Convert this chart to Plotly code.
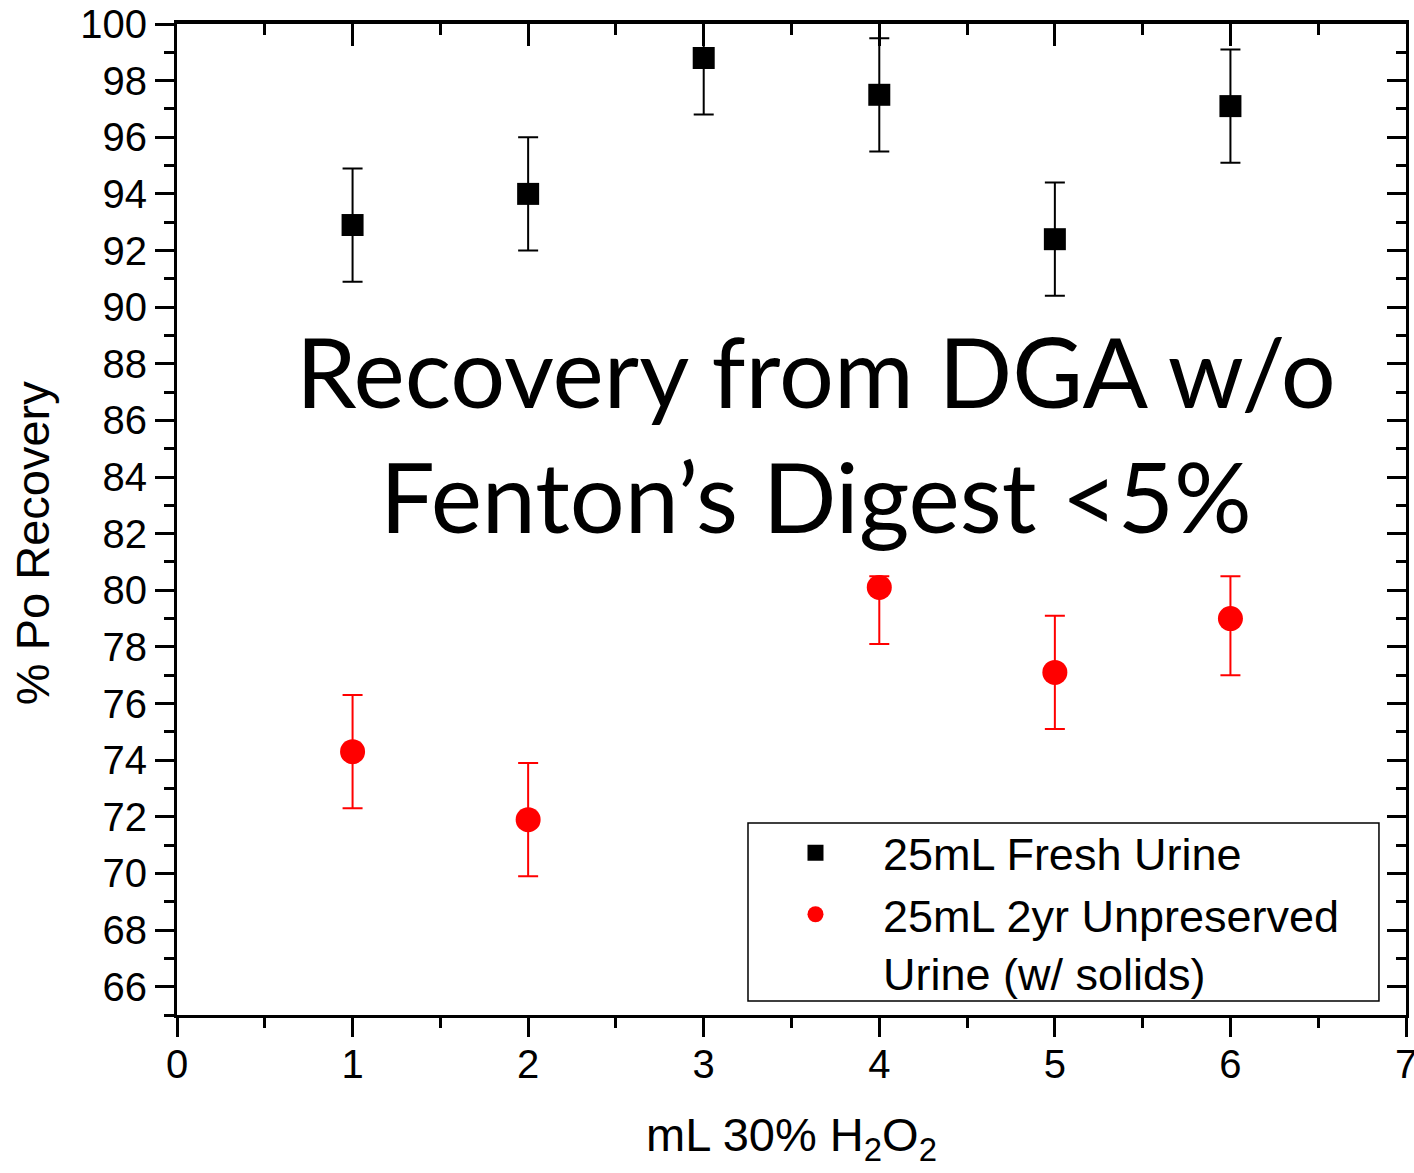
import plotly.graph_objects as go

# Po recovery vs. volume of 30% H2O2 added
h2o2_ml = [1, 2, 3, 4, 5, 6]
fresh_recovery = [92.9, 94.0, 98.8, 97.5, 92.4, 97.1]
fresh_err = [2.0, 2.0, 2.0, 2.0, 2.0, 2.0]

aged_ml = [1, 2, 4, 5, 6]
aged_recovery = [74.3, 71.9, 80.1, 77.1, 79.0]
aged_err_plus = [2.0, 2.0, 0.4, 2.0, 1.5]
aged_err_minus = [2.0, 2.0, 2.0, 2.0, 2.0]

fresh_name = "25mL Fresh Urine"
aged_name = "25mL 2yr Unpreserved<br>Urine (w/ solids)"
note_lines = ["Recovery from DGA w/o", "Fenton\u2019s Digest <5%"]
x_title = "mL 30% H<sub>2</sub>O<sub>2</sub>"
y_title = "% Po Recovery"

AX_FONT = "Liberation Sans, Arial, sans-serif"

fig = go.Figure()
fig.add_trace(go.Scatter(
    x=h2o2_ml, y=fresh_recovery, mode="markers", name=fresh_name,
    marker=dict(symbol="square", size=22, color="black"),
    error_y=dict(type="data", array=fresh_err, color="black", thickness=2, width=10),
))
fig.add_trace(go.Scatter(
    x=aged_ml, y=aged_recovery, mode="markers", name=aged_name,
    marker=dict(symbol="circle", size=25, color="#ff0000"),
    error_y=dict(type="data", symmetric=False, array=aged_err_plus,
                 arrayminus=aged_err_minus, color="#ff0000", thickness=2, width=10),
))
# empty trace so the mirrored top/right frame axes get drawn
fig.add_trace(go.Scatter(x=[None], y=[None], xaxis="x2", yaxis="y2",
                         showlegend=False, hoverinfo="skip"))

# centred overlay text, one annotation per line
for line, yv in zip(note_lines, [87.75, 83.35]):
    fig.add_annotation(
        x=3.64, y=yv, xref="x", yref="y", text=line, showarrow=False,
        font=dict(family="Lato, sans-serif", size=97, color="black"),
        xanchor="center", yanchor="middle",
    )

# y-axis title placed as a rotated annotation
fig.add_annotation(
    x=-0.117, y=0.4763, xref="paper", yref="paper", text=y_title,
    showarrow=False, textangle=-90, xanchor="center", yanchor="middle",
    font=dict(family=AX_FONT, size=47, color="black"),
)

# framed box behind the legend entries
fig.add_shape(
    type="rect", xref="paper", yref="paper",
    x0=0.4646, x1=0.9780, y0=0.0141, y1=0.1937,
    line=dict(color="black", width=1.5), fillcolor="white", layer="above",
)

tick_common = dict(tickcolor="black", tickwidth=3, linecolor="black",
                   tickfont=dict(family=AX_FONT, size=40, color="black"),
                   showgrid=False, zeroline=False, automargin=False,
                   ticklabeloverflow="allow")

fig.update_layout(
    width=1414, height=1173,
    margin=dict(l=177, r=8, t=24, b=158),
    paper_bgcolor="white", plot_bgcolor="white",
    showlegend=True,
    legend=dict(
        x=0.4646, y=0.1998, xanchor="left", yanchor="top",
        font=dict(family=AX_FONT, size=45, color="black"),
        bgcolor="rgba(0,0,0,0)", borderwidth=0,
        itemwidth=125, valign="top", tracegroupgap=0,
    ),
    xaxis=dict(
        range=[0, 7], dtick=1, tick0=0, ticks="outside", ticklen=19,
        showline=True, linewidth=3, ticklabelstandoff=-7,
        minor=dict(dtick=0.5, ticks="outside", ticklen=10, tickwidth=3, tickcolor="black"),
        title=dict(text=x_title,
                   font=dict(family=AX_FONT, size=47, color="black"), standoff=34),
        **tick_common,
    ),
    yaxis=dict(
        range=[65, 100], dtick=2, tick0=0, ticks="outside", ticklen=19,
        showline=True, linewidth=3,
        minor=dict(dtick=1, ticks="outside", ticklen=10, tickwidth=3, tickcolor="black"),
        **tick_common,
    ),
    xaxis2=dict(
        overlaying="x", side="top", anchor="y", range=[0, 7], dtick=1, tick0=0,
        ticks="inside", ticklen=22, showticklabels=False,
        showline=True, linewidth=4,
        minor=dict(dtick=0.5, ticks="inside", ticklen=11, tickwidth=3, tickcolor="black"),
        **tick_common,
    ),
    yaxis2=dict(
        overlaying="y", side="right", anchor="x", range=[65, 100], dtick=2, tick0=0,
        ticks="inside", ticklen=19, showticklabels=False,
        showline=True, linewidth=3,
        minor=dict(dtick=1, ticks="inside", ticklen=10, tickwidth=3, tickcolor="black"),
        **tick_common,
    ),
)

fig.write_html("out.html")
